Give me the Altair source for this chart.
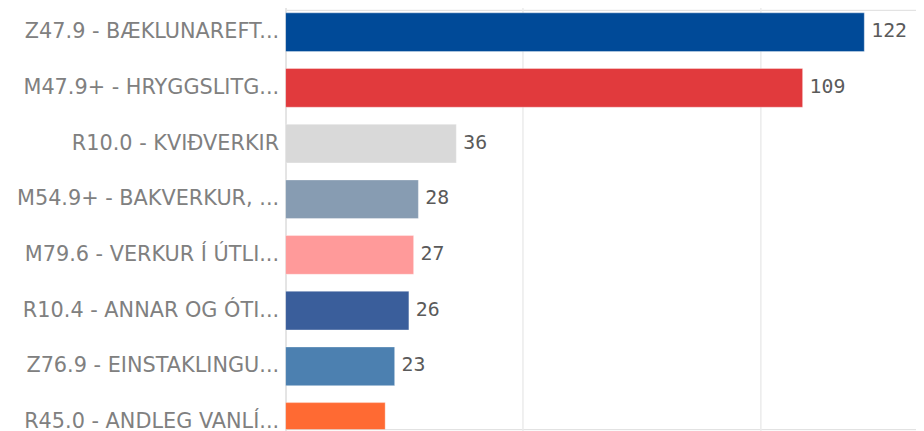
import altair as alt
import pandas as pd

categories = [
    "Z47.9 - BÆKLUNAREFT...",
    "M47.9+ - HRYGGSLITG...",
    "R10.0 - KVIÐVERKIR",
    "M54.9+ - BAKVERKUR, ...",
    "M79.6 - VERKUR Í ÚTLI...",
    "R10.4 - ANNAR OG ÓTI...",
    "Z76.9 - EINSTAKLINGU...",
    "R45.0 - ANDLEG VANLÍ...",
]
values = [122, 109, 36, 28, 27, 26, 23, 21]
colors = ["#004A98", "#E13A3D", "#D9D9D9", "#879CB2", "#FF9A9A", "#3A5E9B", "#4C80B0", "#FF6A33"]
grid_values = [0, 50, 100]

df = pd.DataFrame({"cat": categories, "value": values, "color": colors, "idx": list(range(len(categories)))})

y_enc = alt.Y(
    "cat:N",
    sort=categories,
    scale=alt.Scale(domain=categories, range=[-5.4, 443.7], paddingInner=0.305, paddingOuter=0.15),
    axis=alt.Axis(
        title=None,
        ticks=False,
        domain=True,
        domainColor="#e2e2e2",
        domainWidth=1.5,
        labelFont="DejaVu Sans",
        labelFontSize=21,
        labelColor="#808080",
        labelPadding=7,
        labelLimit=0,
        grid=False,
    ),
)

x_enc = alt.X(
    "value:Q",
    scale=alt.Scale(domain=[0, 132.9], nice=False, zero=True),
    axis=alt.Axis(
        title=None,
        labels=False,
        ticks=False,
        domain=False,
        grid=True,
        gridColor="#ebebeb",
        gridWidth=1.5,
        values=grid_values,
    ),
)

bars = alt.Chart(df).mark_bar(clip=True, stroke="white", strokeOpacity=0.35, strokeWidth=1).encode(
    x=x_enc,
    y=y_enc,
    color=alt.Color("color:N", scale=None, legend=None),
)

labels = alt.Chart(df).transform_filter(alt.datum.idx < 7).mark_text(
    align="left", baseline="middle", dx=7, dy=-1, font="DejaVu Sans Mono", fontSize=20, color="#5a5a5a"
).encode(
    x=alt.X("value:Q"),
    y=alt.Y("cat:N", sort=categories),
    text=alt.Text("value:Q"),
)

chart = (
    alt.layer(bars, labels)
    .properties(
        width=636,
        height=423,
        autosize=alt.AutoSizeParams(type="none"),
        padding={"left": 280, "top": 0, "right": 0, "bottom": 0},
    )
    .configure_view(stroke=None)
    .configure(background="white")
)

chart.save("out.html", embed_options={"renderer": "svg", "actions": False})
